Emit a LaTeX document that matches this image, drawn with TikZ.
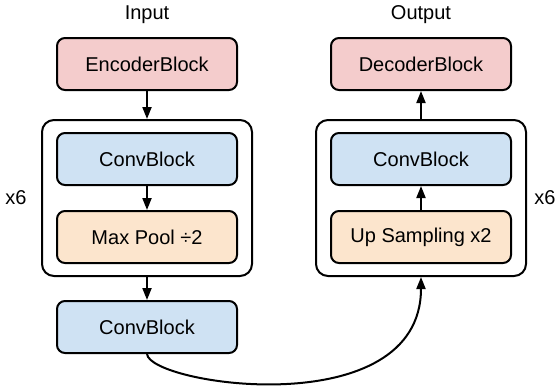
\documentclass[tikz,border=0pt]{standalone}
\usepackage{fontspec}
\setmainfont{Liberation Sans}
\usetikzlibrary{arrows.meta,fit}
\definecolor{encred}{HTML}{F4CCCC}
\definecolor{convblue}{HTML}{CFE2F3}
\definecolor{poolorange}{HTML}{FCE5CD}
\begin{document}
\begin{tikzpicture}[x=0.5pt,y=-0.5pt,>={Triangle[length=6pt,width=4.5pt]},
    font=\fontsize{10}{12}\selectfont,
    blk/.style={draw,line width=1pt,rounded corners=4pt,minimum width=90pt,minimum height=26pt,inner sep=0pt},
    redblk/.style={blk,fill=encred},
    blueblk/.style={blk,fill=convblue},
    orangeblk/.style={blk,fill=poolorange},
    grp/.style={draw,line width=1pt,rounded corners=6pt,inner xsep=7pt,inner ysep=6pt}
  ]
  \useasboundingbox (0,0) rectangle (557,388);
  \begin{scope}
    \node (inlbl) at (147,15) {Input};
    \node[redblk] (enc) at (147,64) {EncoderBlock};
    \node[blueblk] (convL) at (147,159) {ConvBlock};
    \node[orangeblk] (pool) at (147,237) {Max Pool ÷2};
    \node[grp,fit=(convL)(pool)] (grpL) {};
    \node[blueblk] (convB) at (147,327) {ConvBlock};
    \node (repL) at (16,198) {x6};

    \draw[line width=1pt,->] (enc) -- (grpL);
    \draw[line width=1pt,->] (convL) -- (pool);
    \draw[line width=1pt,->] (grpL) -- (convB);
  \end{scope}
  \begin{scope}
    \node (outlbl) at (421,15) {Output};
    \node[redblk] (dec) at (421,64) {DecoderBlock};
    \node[blueblk] (convR) at (421,159) {ConvBlock};
    \node[orangeblk] (up) at (421,237) {Up Sampling x2};
    \node[grp,fit=(convR)(up)] (grpR) {};
    \node (repR) at (545,198) {x6};

    \draw[line width=1pt,->] (up) -- (convR);
    \draw[line width=1pt,->] (grpR) -- (dec);
  \end{scope}
  \draw[line width=1pt,->] (convB.south) .. controls (150,385) and (421,425) .. (grpR.south);
\end{tikzpicture}
\end{document}
